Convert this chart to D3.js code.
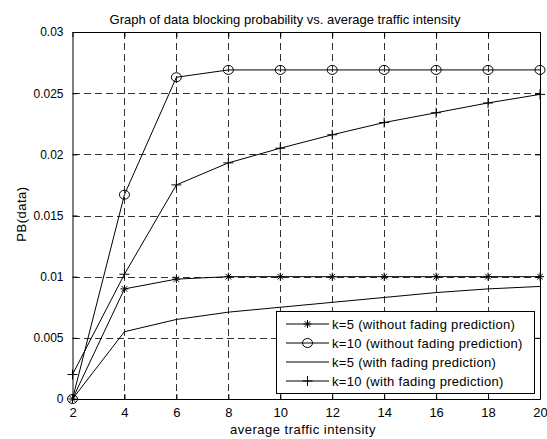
<!DOCTYPE html>
<html>
<head>
<meta charset="utf-8">
<script src="https://cdn.jsdelivr.net/npm/d3@7"></script>
<style>
  body { margin: 0; background: #fff; }
  text { font-family: "Liberation Sans", Arial, sans-serif; fill: #000; }
</style>
</head>
<body>
<div id="chart"></div>
<script>
// ---- data ----
const traffic = [2, 4, 6, 8, 10, 12, 14, 16, 18, 20];
const k5NoPred  = [0, 0.0090, 0.0098, 0.0100, 0.0100, 0.0100, 0.0100, 0.0100, 0.0100, 0.0100];
const k10NoPred = [0, 0.0167, 0.0263, 0.0269, 0.0269, 0.0269, 0.0269, 0.0269, 0.0269, 0.0269];
const k5Pred    = [0, 0.0055, 0.0065, 0.0071, 0.0075, 0.0079, 0.0083, 0.0087, 0.0090, 0.0092];
const k10Pred   = [0.0020, 0.0102, 0.0175, 0.0193, 0.0205, 0.0216, 0.0226, 0.0234, 0.0242, 0.0249];
const xTicks = [2, 4, 6, 8, 10, 12, 14, 16, 18, 20];
const yTicks = [0, 0.005, 0.01, 0.015, 0.02, 0.025, 0.03];
const seriesNames = [
  'k=5 (without fading prediction)',
  'k=10 (without fading prediction)',
  'k=5 (with fading prediction)',
  'k=10 (with fading prediction)'
];

const series = [
  { name: seriesNames[0], values: k5NoPred,  marker: 'star' },
  { name: seriesNames[1], values: k10NoPred, marker: 'circle' },
  { name: seriesNames[2], values: k5Pred,    marker: 'none' },
  { name: seriesNames[3], values: k10Pred,   marker: 'plus' }
];

const width = 547, height = 439;
const margin = { left: 72.5, right: 7, top: 32, bottom: 40 };

const svg = d3.select('#chart').append('svg')
  .attr('width', width).attr('height', height);

const x = d3.scaleLinear().domain([2, 20]).range([margin.left, width - margin.right]);
const y = d3.scaleLinear().domain([0, 0.03]).range([height - margin.bottom, margin.top]);

// grid
const grid = svg.append('g').attr('stroke', '#333').attr('stroke-width', 1)
  .attr('stroke-dasharray', '7,4').attr('shape-rendering', 'crispEdges');
grid.selectAll('line.gx').data(xTicks.slice(1, -1)).join('line')
  .attr('x1', d => Math.round(x(d)) + 0.5).attr('x2', d => Math.round(x(d)) + 0.5)
  .attr('y1', y(0.03)).attr('y2', y(0));
grid.selectAll('line.gy').data(yTicks.slice(1, -1)).join('line')
  .attr('y1', d => Math.round(y(d)) + 0.5).attr('y2', d => Math.round(y(d)) + 0.5)
  .attr('x1', x(2)).attr('x2', x(20));

// axes (inner ticks, box)
const fmt = d => d === 0 ? '0' : d3.format('')(+d.toFixed(3));
svg.append('g').attr('transform', `translate(0,${y(0)})`)
  .call(d3.axisBottom(x).tickValues(xTicks).tickSizeInner(-5).tickSizeOuter(0).tickPadding(9))
  .call(g => g.selectAll('text').attr('font-size', 13));
svg.append('g').attr('transform', `translate(0,${y(0.03)})`)
  .call(d3.axisTop(x).tickValues(xTicks).tickSizeInner(-5).tickSizeOuter(0).tickFormat(''));
svg.append('g').attr('transform', `translate(${x(2)},0)`)
  .call(d3.axisLeft(y).tickValues(yTicks).tickSizeInner(-5).tickSizeOuter(0).tickPadding(9).tickFormat(fmt))
  .call(g => g.selectAll('text').attr('font-size', 12));
svg.append('g').attr('transform', `translate(${x(20)},0)`)
  .call(d3.axisRight(y).tickValues(yTicks).tickSizeInner(-5).tickSizeOuter(0).tickFormat(''));
svg.selectAll('.domain').attr('stroke', '#000');
svg.selectAll('.tick line').attr('stroke', '#000');
svg.selectAll('.tick text').attr('font-family', '"Liberation Sans", Arial, sans-serif');

// lines + markers
const line = d3.line().x((d, i) => x(traffic[i])).y(d => y(d));

function drawMarker(g, type, cx, cy) {
  if (type === 'circle') {
    g.append('ellipse').attr('cx', cx).attr('cy', cy).attr('rx', 5).attr('ry', 4.5)
      .attr('fill', 'none').attr('stroke', '#000');
  } else if (type === 'plus') {
    g.append('path').attr('d', `M${cx - 5},${cy}H${cx + 5}M${cx},${cy - 5}V${cy + 5}`)
      .attr('stroke', '#000');
  } else if (type === 'star') {
    const r = 4;
    g.append('path').attr('d',
      `M${cx - r},${cy}H${cx + r}M${cx},${cy - r}V${cy + r}` +
      `M${cx - r * 0.7},${cy - r * 0.7}L${cx + r * 0.7},${cy + r * 0.7}` +
      `M${cx - r * 0.7},${cy + r * 0.7}L${cx + r * 0.7},${cy - r * 0.7}`)
      .attr('stroke', '#000');
  }
}

const plot = svg.append('g');
series.forEach(s => {
  plot.append('path').datum(s.values).attr('d', line)
    .attr('fill', 'none').attr('stroke', '#000').attr('stroke-width', 1);
  const mg = plot.append('g');
  s.values.forEach((v, i) => drawMarker(mg, s.marker, x(traffic[i]), y(v)));
});

// legend
const lg = svg.append('g');
lg.append('rect').attr('x', 276.5).attr('y', 311.5).attr('width', 258).attr('height', 82)
  .attr('fill', '#fff').attr('stroke', '#000');
series.forEach((s, i) => {
  const ly = 324 + i * 19;
  lg.append('line').attr('x1', 286).attr('x2', 329).attr('y1', ly).attr('y2', ly).attr('stroke', '#000');
  drawMarker(lg, s.marker, 307.5, ly);
  lg.append('text').attr('x', 332).attr('y', ly + 5).attr('font-size', 13)
    .attr('letter-spacing', 0.3).text(s.name);
});

// titles
svg.append('text').attr('x', 285).attr('y', 24).attr('text-anchor', 'middle')
  .attr('font-size', 13).text('Graph of data blocking probability vs. average traffic intensity');
svg.append('text').attr('x', 303).attr('y', 434).attr('text-anchor', 'middle')
  .attr('font-size', 13).attr('letter-spacing', 0.5).text('average traffic intensity');
svg.append('text').attr('transform', 'translate(26,214) rotate(-90)').attr('text-anchor', 'middle')
  .attr('font-size', 13).attr('letter-spacing', 0.5).text('PB(data)');
</script>
</body>
</html>
